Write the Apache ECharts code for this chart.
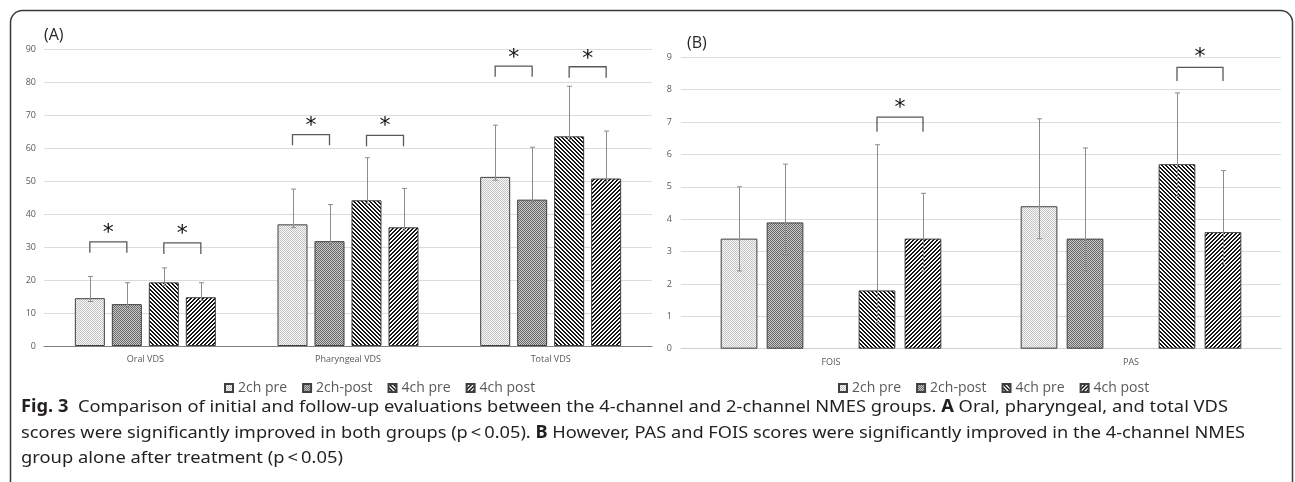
<!DOCTYPE html>
<html><head><meta charset="utf-8">
<script src="https://cdn.jsdelivr.net/npm/echarts@6/dist/echarts.min.js"></script>
<style>html,body{margin:0;padding:0;background:#fff;}#chart{width:1295px;height:482px;}</style>
</head><body><div id="chart"></div>
<script>
// ---------- DATA ----------
const seriesNames = ['2ch pre', '2ch-post', '4ch pre', '4ch post'];

// Panel (A) VDS
const catsA = ['Oral VDS', 'Pharyngeal VDS', 'Total VDS'];
const a2chPre  = [14.5, 36.9, 51.3];
const a2chPost = [12.7, 31.8, 44.4];
const a4chPre  = [19.3, 44.2, 63.6];
const a4chPost = [14.8, 36.0, 50.8];
const a2chPreHi  = [21.1, 47.6, 67.0];
const a2chPostHi = [19.2, 42.9, 60.3];
const a4chPreHi  = [23.7, 57.1, 78.8];
const a4chPostHi = [19.2, 47.8, 65.2];
const a2chPreLo  = [13.5, 35.9, 50.3];
const a2chPostLo = [11.7, 30.8, 43.4];
const a4chPreLo  = [18.3, 43.2, 62.6];
const a4chPostLo = [13.8, 35.0, 49.8];
const yAxisA = { min: 0, max: 90, interval: 10 };
// significance: [category, left series, right series, bracket top, leg end, star]
const sigA = [
  [0, 0, 1, 31.6, 28.3, 36.0], [0, 2, 3, 31.3, 27.9, 35.7],
  [1, 0, 1, 64.1, 60.9, 68.5], [1, 2, 3, 63.9, 60.6, 68.3],
  [2, 0, 1, 84.9, 81.7, 89.2], [2, 2, 3, 84.7, 81.4, 88.9]
];

// Panel (B) FOIS / PAS
const catsB = ['FOIS', 'PAS'];
const b2chPre  = [3.4, 4.4];
const b2chPost = [3.9, 3.4];
const b4chPre  = [1.8, 5.7];
const b4chPost = [3.4, 3.6];
const b2chPreHi  = [5.0, 7.1];
const b2chPostHi = [5.7, 6.2];
const b4chPreHi  = [6.3, 7.9];
const b4chPostHi = [4.8, 5.5];
const b2chPreLo  = [2.4, 3.4];
const b2chPostLo = [2.9, 2.4];
const b4chPreLo  = [0.8, 4.7];
const b4chPostLo = [2.4, 2.6];
const yAxisB = { min: 0, max: 9, interval: 1 };
const sigB = [
  [0, 2, 3, 7.15, 6.70, 7.61],
  [1, 2, 3, 8.69, 8.27, 9.18]
];

const captionLines = [
  [['Fig. 3', true], ['  Comparison of initial and follow-up evaluations between the 4-channel and 2-channel NMES groups. ', false], ['A', true], [' Oral, pharyngeal, and total VDS', false]],
  [['scores were significantly improved in both groups (p\u2009<\u20090.05). ', false], ['B', true], [' However, PAS and FOIS scores were significantly improved in the 4-channel NMES', false]],
  [['group alone after treatment (p\u2009<\u20090.05)', false]]
];

// ---------- STYLE / LAYOUT ----------
const FONT = '"Open Sans", "Noto Sans", sans-serif';
const CAP_FONT = '"Noto Sans", "Open Sans", sans-serif';
const CAP_SIZE = 17;
const capLayout = [{ x: 21, y: 407, right: 1228 }, { x: 21, y: 433, right: 1245 }, { x: 21, y: 458, right: 343 }];
const bwA = 30, gapA = 7, bwB = 36.7, gapB = 9.3;

function makePattern(size, fn) {
  const c = document.createElement('canvas'); c.width = size; c.height = size;
  const ctx = c.getContext('2d'); const img = ctx.createImageData(size, size);
  for (let y = 0; y < size; y++) for (let x = 0; x < size; x++) {
    const v = fn(x, y), i = (y * size + x) * 4;
    img.data[i] = v; img.data[i + 1] = v; img.data[i + 2] = v; img.data[i + 3] = 255;
  }
  ctx.putImageData(img, 0, 0);
  return { image: c, repeat: 'repeat' };
}
const patterns = [
  makePattern(2, (x, y) => ((x + y) % 2 === 0 ? 196 : 248)),
  makePattern(2, (x, y) => ((x + y) % 2 === 0 ? 105 : 200)),
  makePattern(4, (x, y) => ((((x - y) % 4) + 4) % 4 < 2 ? 20 : 255)),
  makePattern(4, (x, y) => ((x + y) % 4 < 2 ? 20 : 255))
];

const valsA = [a2chPre, a2chPost, a4chPre, a4chPost];
const hiA = [a2chPreHi, a2chPostHi, a4chPreHi, a4chPostHi];
const loA = [a2chPreLo, a2chPostLo, a4chPreLo, a4chPostLo];
const valsB = [b2chPre, b2chPost, b4chPre, b4chPost];
const hiB = [b2chPreHi, b2chPostHi, b4chPreHi, b4chPostHi];
const loB = [b2chPreLo, b2chPostLo, b4chPreLo, b4chPostLo];
const slotB = [0, 1, 3, 4]; // middle slot of panel B is empty

const errDataA = [], errDataB = [];
valsA.forEach((v, s) => v.forEach((_, c) => errDataA.push([c, s, loA[s][c], hiA[s][c]])));
valsB.forEach((v, s) => v.forEach((_, c) => errDataB.push([c, slotB[s], loB[s][c], hiB[s][c]])));
const sigDataB = sigB.map(d => [d[0], slotB[d[1]], slotB[d[2]], d[3], d[4], d[5]]);

function errRender(nSlots, bw, gap) {
  return function (params, api) {
    const cat = api.value(0), slot = api.value(1);
    const pHi = api.coord([cat, api.value(3)]), pLo = api.coord([cat, api.value(2)]);
    const x = Math.round(pHi[0] + (slot - (nSlots - 1) / 2) * (bw + gap)) + 0.5;
    const st = { stroke: '#8c8c8c', lineWidth: 1 };
    const cap = 2.5;
    return { type: 'group', children: [
      { type: 'line', shape: { x1: x, y1: pHi[1], x2: x, y2: pLo[1] }, style: st },
      { type: 'line', shape: { x1: x - cap, y1: pHi[1], x2: x + cap, y2: pHi[1] }, style: st },
      { type: 'line', shape: { x1: x - cap, y1: pLo[1], x2: x + cap, y2: pLo[1] }, style: st }
    ] };
  };
}
function sigRender(nSlots, bw, gap) {
  return function (params, api) {
    const cat = api.value(0);
    const pTop = api.coord([cat, api.value(3)]), pLeg = api.coord([cat, api.value(4)]), pStar = api.coord([cat, api.value(5)]);
    const xL = pTop[0] + (api.value(1) - (nSlots - 1) / 2) * (bw + gap);
    const xR = pTop[0] + (api.value(2) - (nSlots - 1) / 2) * (bw + gap);
    const fs = 22;
    return { type: 'group', children: [
      { type: 'polyline', shape: { points: [[xL, pLeg[1]], [xL, pTop[1]], [xR, pTop[1]], [xR, pLeg[1]]] },
        style: { stroke: '#595959', lineWidth: 1.3, fill: null } },
      { type: 'text', x: (xL + xR) / 2, y: pStar[1] + fs * 0.27,
        style: { text: '*', font: fs + 'px "DejaVu Sans"', fill: '#111', textAlign: 'center', align: 'center', textVerticalAlign: 'middle', verticalAlign: 'middle' } }
    ] };
  };
}

function barSeries(vals, xi, bw, gap) {
  return vals.map((v, s) => ({
    type: 'bar', name: seriesNames[s], xAxisIndex: xi, yAxisIndex: xi, data: v,
    barWidth: bw, barGap: (gap / bw * 100).toFixed(1) + '%',
    itemStyle: { color: patterns[s], borderColor: '#3f3f3f', borderWidth: 1 },
    emphasis: { disabled: true }, z: 2
  }));
}
const seriesA = barSeries(valsA, 0, bwA, gapA);
const seriesB = barSeries(valsB, 1, bwB, gapB);
seriesB.splice(2, 0, { type: 'bar', name: 'spacer', xAxisIndex: 1, yAxisIndex: 1, data: catsB.map(() => '-'), barWidth: bwB, barGap: (gapB / bwB * 100).toFixed(1) + '%' });

// caption graphics
const mctx = document.createElement('canvas').getContext('2d');
function capFont(bold) { return (bold ? 'bold ' : '') + CAP_SIZE + 'px ' + CAP_FONT; }
const captionEls = [];
captionLines.forEach((line, li) => {
  const L = capLayout[li];
  const widths = line.map(([t, b]) => { mctx.font = capFont(b); return mctx.measureText(t).width; });
  const total = widths.reduce((a, b) => a + b, 0);
  const sc = (L.right - L.x) / total;
  let cx = L.x;
  line.forEach(([t, b], i) => {
    captionEls.push({ type: 'text', x: cx, y: L.y, scaleX: sc, silent: true,
      style: { text: t, font: capFont(b), fill: '#231f20', textVerticalAlign: 'middle', verticalAlign: 'middle' } });
    cx += widths[i] * sc;
  });
});

const axisLabel = { fontFamily: FONT, fontSize: 9, color: '#595959' };
const legendBase = { icon: 'rect', itemWidth: 8, itemHeight: 8, itemGap: 15, top: 376, selectedMode: false,
  textStyle: { fontFamily: FONT, fontSize: 14, color: '#595959' }, data: seriesNames };

const chart = echarts.init(document.getElementById('chart'), null, { renderer: 'canvas' });
chart.setOption({
  animation: false,
  backgroundColor: '#fff',
  grid: [
    { left: 44, right: 643, top: 49.3, bottom: 136 },
    { left: 681, right: 14, top: 57.3, bottom: 133.3 }
  ],
  xAxis: [
    { type: 'category', gridIndex: 0, data: catsA, axisTick: { show: false },
      axisLine: { lineStyle: { color: '#808080', width: 1 } }, axisLabel: Object.assign({ margin: 9 }, axisLabel) },
    { type: 'category', gridIndex: 1, data: catsB, axisTick: { show: false },
      axisLine: { lineStyle: { color: '#d0d0d0', width: 1 } }, axisLabel: Object.assign({ margin: 9 }, axisLabel) }
  ],
  yAxis: [
    Object.assign({ type: 'value', gridIndex: 0, axisLine: { show: false }, axisTick: { show: false },
      splitLine: { lineStyle: { color: '#dcdcdc', width: 1 } }, axisLabel: Object.assign({ margin: 8 }, axisLabel) }, yAxisA),
    Object.assign({ type: 'value', gridIndex: 1, axisLine: { show: false }, axisTick: { show: false },
      splitLine: { lineStyle: { color: '#dcdcdc', width: 1 } }, axisLabel: Object.assign({ margin: 9 }, axisLabel) }, yAxisB)
  ],
  legend: [
    Object.assign({ left: 219 }, legendBase),
    Object.assign({ left: 833 }, legendBase)
  ],
  graphic: [
    { type: 'rect', silent: true, z: 100, shape: { x: 10.5, y: 10.5, width: 1282, height: 492, r: 12 },
      style: { fill: 'none', stroke: '#3a3a3a', lineWidth: 1.5 } },
    { type: 'text', x: 44, y: 35, style: { text: '(A)', font: '16px ' + FONT, fill: '#262626', textVerticalAlign: 'middle', verticalAlign: 'middle' } },
    { type: 'text', x: 687, y: 43, style: { text: '(B)', font: '16px ' + FONT, fill: '#262626', textVerticalAlign: 'middle', verticalAlign: 'middle' } }
  ].concat(captionEls),
  series: seriesA.concat(seriesB).concat([
    { type: 'custom', xAxisIndex: 0, yAxisIndex: 0, data: errDataA, encode: { x: 0, y: [2, 3] },
      renderItem: errRender(4, bwA, gapA), z: 5, silent: true, clip: false },
    { type: 'custom', xAxisIndex: 1, yAxisIndex: 1, data: errDataB, encode: { x: 0, y: [2, 3] },
      renderItem: errRender(5, bwB, gapB), z: 5, silent: true, clip: false },
    { type: 'custom', xAxisIndex: 0, yAxisIndex: 0, data: sigA, encode: { x: 0, y: [3, 4, 5] },
      renderItem: sigRender(4, bwA, gapA), z: 5, silent: true, clip: false },
    { type: 'custom', xAxisIndex: 1, yAxisIndex: 1, data: sigDataB, encode: { x: 0, y: [3, 4, 5] },
      renderItem: sigRender(5, bwB, gapB), z: 5, silent: true, clip: false }
  ])
});
</script></body></html>
